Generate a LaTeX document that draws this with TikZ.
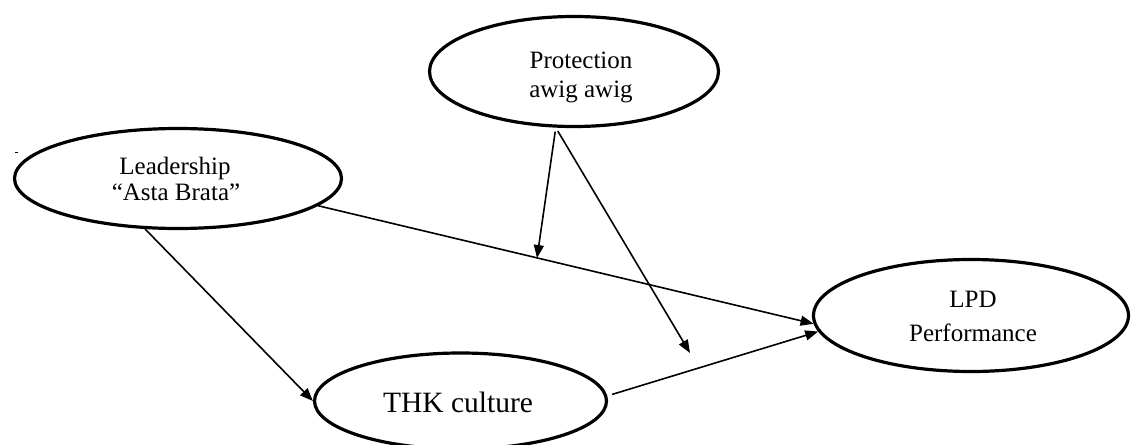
\documentclass[tikz,border=0pt]{standalone}
\usepackage{fontspec}
\setmainfont{Liberation Serif}
\usetikzlibrary{shapes.geometric,arrows.meta}
\begin{document}
\begin{tikzpicture}[x=1pt,y=-1pt,
  oval/.style={draw, ellipse, line width=3.2pt, inner sep=0pt},
  lbl/.style={anchor=base, inner sep=0pt, font=\fontsize{25}{30}\selectfont},
  arr/.style={line width=1.6pt, -{Triangle[length=13pt,width=10pt]}}
]
\path[use as bounding box] (0,0) rectangle (1131,444);
\clip (0,0) rectangle (1131,444);

% ellipses
\node[oval, minimum width=327pt, minimum height=100pt] (L) at (178,178.5) {};
\node[oval, minimum width=289pt, minimum height=110pt] (P) at (574,71.5) {};
\node[oval, minimum width=315pt, minimum height=112pt] (D) at (971,315.5) {};
\node[oval, minimum width=292pt, minimum height=96pt] (T) at (460.5,401) {};

% labels
\node[lbl] (tL1) at (175,174) {Leadership};
\node[lbl] (tL2) at (176,200) {“Asta Brata”};
\node[lbl] (tP1) at (581,68) {Protection};
\node[lbl] (tP2) at (581,97) {awig awig};
\node[lbl] (tD1) at (973,307) {LPD};
\node[lbl] (tD2) at (973,341) {Performance};
\node[lbl, font=\fontsize{29.5}{34}\selectfont] (tT) at (458,412) {THK culture};

% stray mark
\draw[line width=1pt] (15,152.5) -- (18,152.5);

% free ends
\coordinate (m1) at (537,258);
\coordinate (m2) at (690,353);

% connectors
\draw[arr] (L.237) -- (T.180);
\draw[arr] (L.-11) -- (D.183);
\draw[arr, shorten <=4pt] (P.252) -- (m1);
\draw[arr, shorten <=4pt] (P.252) -- (m2);
\draw[arr, shorten <=5pt] (T.2) -- (D.186);
\end{tikzpicture}
\end{document}
